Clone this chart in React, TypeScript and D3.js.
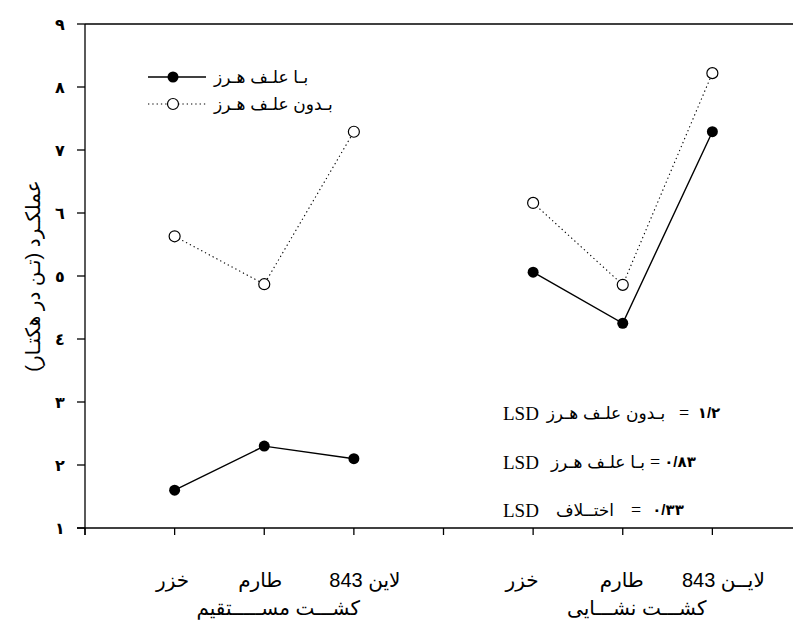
import * as d3 from "d3";
import React from "react";

// categories (cultivars) and planting methods
const cultivars = [
  ["خزر", "طارم", "لاین 843"],
  ["خزر", "طارم", "لایــن 843"],
];
const methods = ["کشـــت مســـــتقیم", "کشـــت نشـــایی"];
// x positions on the 0..8 axis
const xPos = [
  [1, 2, 3],
  [5, 6, 7],
];
// yield (t/ha)
const withWeed = [
  [1.6, 2.3, 2.1],
  [5.06, 4.25, 7.29],
];
const withoutWeed = [
  [5.63, 4.87, 7.29],
  [6.16, 4.86, 8.22],
];
const yTicks = [1, 2, 3, 4, 5, 6, 7, 8, 9];
const xTicks = [0, 1, 2, 3, 4, 5, 6, 7, 8];
const lsdRows = [
  { label: "بـدون علـف هـرز", val: "1/2" },
  { label: "بـا علـف هـرز", val: "0/83" },
  { label: "اختــلاف", val: "0/33" },
];
const arabicDigits = "٠١٢٣٤٥٦٧٨٩";
const toArabic = (s: string) => s.replace(/[0-9]/g, (c) => arabicDigits[+c]);

const W = 793;
const H = 625;
const AR = "'Liberation Sans', 'DejaVu Sans', Arial, sans-serif";
const SERIF = "'Liberation Serif', 'Times New Roman', serif";

export default function App() {
  const x = d3.scaleLinear().domain([0, 8]).range([85, 802]);
  const y = d3.scaleLinear().domain([1, 9]).range([528, 24]);
  const line = d3
    .line<[number, number]>()
    .x((d) => x(d[0]))
    .y((d) => y(d[1]));

  const pts = (vals: number[][]) =>
    vals.map((g, gi) => g.map((v, i) => [xPos[gi][i], v] as [number, number]));
  const solid = pts(withWeed);
  const dotted = pts(withoutWeed);

  // label nudges relative to the point positions (as set in the source figure)
  const labelShift = [
    [-2, -4, 11],
    [-11, -1, 11],
  ];

  const lsdLayout = [
    { y: 413, lc: 606, eq: 684, vc: 709 },
    { y: 462, lc: 598, eq: 655, vc: 680 },
    { y: 510, lc: 585, eq: 636, vc: 668 },
  ];

  return (
    <svg
      width={W}
      height={H}
      style={{ position: "absolute", left: 0, top: 0, background: "#fff" }}
    >
      {/* frame */}
      <line x1={x(0)} x2={W} y1={y(9)} y2={y(9)} stroke="#000" strokeWidth={1.3} />
      <line x1={x(0)} x2={x(0)} y1={y(9)} y2={y(1) + 7} stroke="#000" strokeWidth={1.3} />
      <line x1={x(0) - 8} x2={W} y1={y(1)} y2={y(1)} stroke="#000" strokeWidth={1.3} />

      {/* y ticks */}
      {yTicks.map((t) => (
        <g key={t}>
          <line x1={x(0) - 8} x2={x(0)} y1={y(t)} y2={y(t)} stroke="#000" strokeWidth={1.3} />
          <text
            x={60}
            y={y(t)}
            dy="0.35em"
            textAnchor="middle"
            fontFamily={AR}
            fontWeight="bold"
            fontSize={16}
          >
            {toArabic(String(t))}
          </text>
        </g>
      ))}
      {/* x ticks */}
      {xTicks.map((t) => (
        <line key={t} x1={x(t)} x2={x(t)} y1={y(1)} y2={y(1) + 7} stroke="#000" strokeWidth={1.3} />
      ))}

      {/* y label */}
      <text
        transform={`translate(40,${y(5)}) rotate(-90)`}
        textAnchor="middle"
        fontFamily={AR}
        fontSize={20}
        direction="rtl"
      >
        عملکـرد (تـن در هکتـار)
      </text>

      {/* series */}
      {dotted.map((g, gi) => (
        <path key={"d" + gi} d={line(g) ?? ""} fill="none" stroke="#000" strokeWidth={1.1} strokeDasharray="1.3,3" />
      ))}
      {solid.map((g, gi) => (
        <path key={"s" + gi} d={line(g) ?? ""} fill="none" stroke="#000" strokeWidth={1.4} />
      ))}
      {dotted.flat().map((p, i) => (
        <circle key={"dc" + i} cx={x(p[0])} cy={y(p[1])} r={5.5} fill="#fff" stroke="#000" strokeWidth={1.2} />
      ))}
      {solid.flat().map((p, i) => (
        <circle key={"sc" + i} cx={x(p[0])} cy={y(p[1])} r={5.5} fill="#000" />
      ))}

      {/* legend */}
      <line x1={148} x2={206} y1={77} y2={77} stroke="#000" strokeWidth={1.4} />
      <circle cx={173} cy={77} r={5.5} fill="#000" />
      <text x={214} y={77} dy="0.35em" fontFamily={AR} fontSize={17}>
        بـا علـف هـرز
      </text>
      <line x1={148} x2={206} y1={104} y2={104} stroke="#000" strokeWidth={1.1} strokeDasharray="1.3,3" />
      <circle cx={173} cy={104} r={5.5} fill="#fff" stroke="#000" strokeWidth={1.2} />
      <text x={214} y={104} dy="0.35em" fontFamily={AR} fontSize={17}>
        بـدون علـف هـرز
      </text>

      {/* LSD notes */}
      {lsdRows.map((r, i) => {
        const l = lsdLayout[i];
        return (
          <g key={i}>
            <text x={503} y={l.y} dy="0.35em" fontFamily={SERIF} fontSize={19}>
              LSD
            </text>
            <text x={l.lc} y={l.y} dy="0.35em" textAnchor="middle" fontFamily={AR} fontSize={17}>
              {r.label}
            </text>
            <text x={l.eq} y={l.y} dy="0.35em" textAnchor="middle" fontFamily={SERIF} fontSize={18}>
              =
            </text>
            <text x={l.vc} y={l.y} dy="0.35em" textAnchor="middle" fontFamily={AR} fontWeight="bold" fontSize={15}>
              {toArabic(r.val)}
            </text>
          </g>
        );
      })}

      {/* x category labels */}
      {xPos.map((g, gi) =>
        g.map((p, i) => (
          <text
            key={gi + "-" + i}
            x={x(p) + labelShift[gi][i]}
            y={580}
            dy="0.35em"
            textAnchor="middle"
            fontFamily={AR}
            fontSize={20}
            direction="rtl"
          >
            {cultivars[gi][i]}
          </text>
        ))
      )}
      {methods.map((m, gi) => (
        <text
          key={m}
          x={x(xPos[gi][1]) + 14}
          y={608}
          dy="0.35em"
          textAnchor="middle"
          fontFamily={AR}
          fontSize={20}
          direction="rtl"
        >
          {m}
        </text>
      ))}
    </svg>
  );
}
